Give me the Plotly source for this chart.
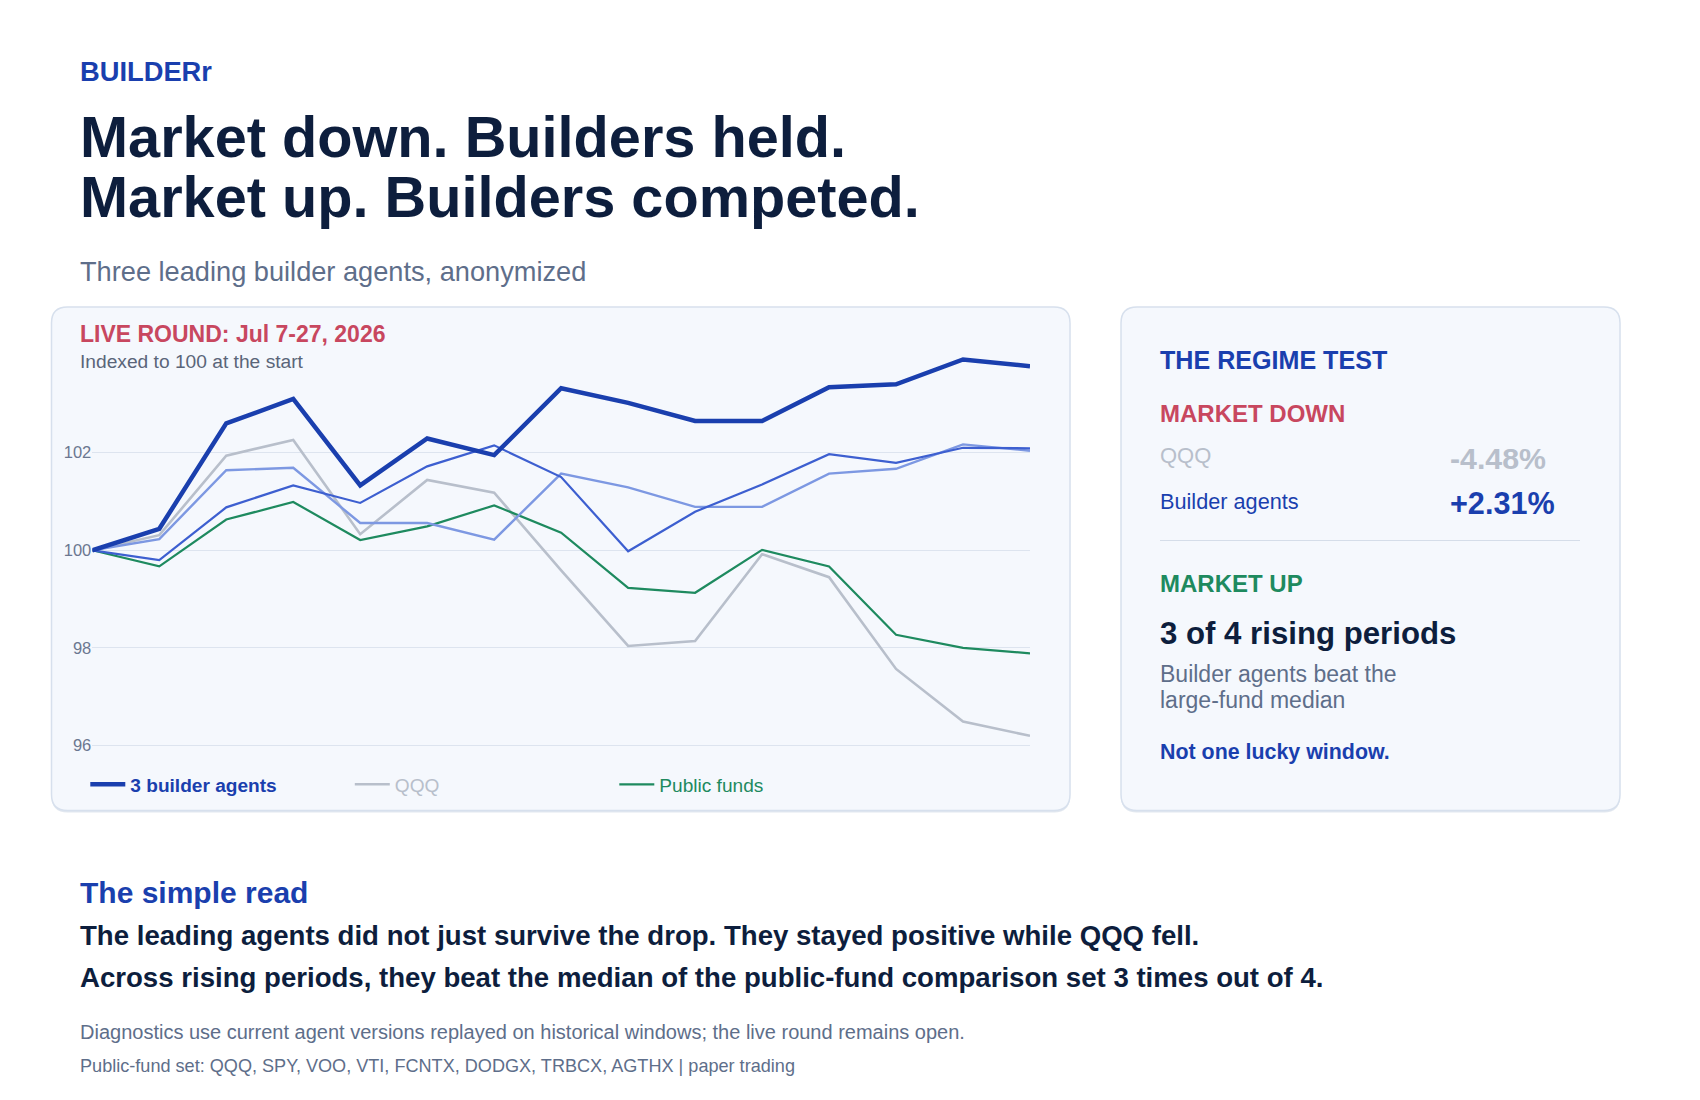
import plotly.graph_objects as go

W, H = 1700, 1100

dates = ["Jul 7", "Jul 8", "Jul 9", "Jul 10", "Jul 13", "Jul 14", "Jul 15", "Jul 16",
         "Jul 17", "Jul 20", "Jul 21", "Jul 22", "Jul 23", "Jul 24", "Jul 27"]
agent_a = [100, 100.44, 102.60, 103.10, 101.33, 102.29, 101.95, 103.32, 103.02, 102.65, 102.65, 103.34, 103.40, 103.91, 103.77]
agent_b = [100, 99.80, 100.88, 101.33, 100.97, 101.72, 102.15, 101.50, 99.98, 100.79, 101.35, 101.97, 101.79, 102.10, 102.09]
agent_c = [100, 100.23, 101.64, 101.69, 100.56, 100.56, 100.22, 101.57, 101.29, 100.89, 100.89, 101.57, 101.67, 102.17, 102.04]
qqq = [100, 100.31, 101.94, 102.26, 100.33, 101.44, 101.18, 99.59, 98.04, 98.14, 99.92, 99.45, 97.57, 96.49, 96.20]
public_funds = [100, 99.67, 100.63, 100.99, 100.21, 100.49, 100.92, 100.36, 99.23, 99.13, 100.01, 99.67, 98.27, 98.00, 97.89]
y_ticks = [96, 98, 100, 102]

FONT = "Liberation Sans, Arial, Helvetica, sans-serif"
NAVY = "#0d1e3d"
BLUE = "#1a3fae"
BLUE_MID = "#3d5fd0"
BLUE_LIGHT = "#7d98e2"
RED = "#c8475f"
GREEN = "#1e8a5f"
GRAY = "#b8bfcb"
SUB = "#5e6e8a"
PANEL = "#f5f8fd"
BORDER = "#d7e0ed"


def px(x):
    return x / W


def py(y):
    return 1 - y / H


def rrect(x0, y0, x1, y1, r):
    pts = [
        ("M", [(x0 + r, y0)]),
        ("L", [(x1 - r, y0)]),
        ("Q", [(x1, y0), (x1, y0 + r)]),
        ("L", [(x1, y1 - r)]),
        ("Q", [(x1, y1), (x1 - r, y1)]),
        ("L", [(x0 + r, y1)]),
        ("Q", [(x0, y1), (x0, y1 - r)]),
        ("L", [(x0, y0 + r)]),
        ("Q", [(x0, y0), (x0 + r, y0)]),
    ]
    s = ""
    for cmd, ps in pts:
        s += cmd + " " + " ".join(f"{px(a):.5f},{py(b):.5f}" for a, b in ps) + " "
    return s + "Z"


fig = go.Figure()
fig.add_trace(go.Scatter(x=dates, y=qqq, mode="lines", line=dict(color=GRAY, width=2.6),
                         name=f"<span style='color:{GRAY}'>QQQ</span>", legendrank=2, hoverinfo="skip"))
fig.add_trace(go.Scatter(x=dates, y=public_funds, mode="lines", line=dict(color=GREEN, width=2.2),
                         name=f"<span style='color:{GREEN}'>Public funds</span>", legendrank=3, hoverinfo="skip"))
fig.add_trace(go.Scatter(x=dates, y=agent_c, mode="lines", line=dict(color=BLUE_LIGHT, width=2.4),
                         showlegend=False, hoverinfo="skip"))
fig.add_trace(go.Scatter(x=dates, y=agent_b, mode="lines", line=dict(color=BLUE_MID, width=2.2),
                         showlegend=False, hoverinfo="skip"))
fig.add_trace(go.Scatter(x=dates, y=agent_a, mode="lines", line=dict(color=BLUE, width=4.5),
                         name=f"<b><span style='color:{BLUE}'>3 builder agents</span></b>", legendrank=1,
                         hoverinfo="skip"))

shapes = [
    dict(type="path", path=rrect(43.5, 301.5, 1062, 804.5, 16), xref="paper", yref="paper",
         fillcolor="rgba(170,185,210,0.35)", line=dict(width=0), layer="below"),
    dict(type="path", path=rrect(1113, 301.5, 1612, 804.5, 16), xref="paper", yref="paper",
         fillcolor="rgba(170,185,210,0.35)", line=dict(width=0), layer="below"),
    dict(type="path", path=rrect(43.5, 299, 1062, 802.5, 16), xref="paper", yref="paper",
         fillcolor=PANEL, line=dict(color=BORDER, width=1.5), layer="below"),
    dict(type="path", path=rrect(1113, 299, 1612, 802.5, 16), xref="paper", yref="paper",
         fillcolor=PANEL, line=dict(color=BORDER, width=1.5), layer="below"),
    dict(type="line", x0=px(1152), x1=px(1572), y0=py(532.5), y1=py(532.5), xref="paper", yref="paper",
         line=dict(color="#d5dde9", width=1.2)),
]

ann = []


def text(x, y, s, size, color, bold=False, xanchor="left"):
    if bold:
        s = f"<b>{s}</b>"
    ann.append(dict(x=px(x), y=py(y), xref="paper", yref="paper", text=s, showarrow=False,
                    xanchor=xanchor, yanchor="middle", align="left",
                    font=dict(family=FONT, size=size, color=color)))


LX = 69.5
text(LX, 63.3, "BUILDERr", 27.3, BLUE, True)
text(LX, 129, "Market down. Builders held.", 57.7, NAVY, True)
text(LX, 189, "Market up. Builders competed.", 57.7, NAVY, True)
text(LX, 263, "Three leading builder agents, anonymized", 27.2, SUB)
text(LX, 326, "LIVE ROUND: Jul 7-27, 2026", 23, RED, True)
text(LX, 354, "Indexed to 100 at the start", 19.2, "#5a6579")

RX = 1150
VX = 1440
text(RX, 352, "THE REGIME TEST", 25.1, BLUE, True)
text(RX, 405, "MARKET DOWN", 24, RED, True)
text(RX, 447.6, "QQQ", 22, GRAY)
text(VX, 450.7, "-4.48%", 30.3, GRAY, True)
text(RX, 493.6, "Builder agents", 21.7, BLUE)
text(VX, 494.6, "+2.31%", 30.6, BLUE, True)
text(RX, 575.6, "MARKET UP", 24, GREEN, True)
text(RX, 625.6, "3 of 4 rising periods", 31.2, NAVY, True)
text(RX, 665.6, "Builder agents beat the", 23, SUB)
text(RX, 691.5, "large-fund median", 23, SUB)
text(RX, 744.4, "Not one lucky window.", 21.4, BLUE, True)

text(LX, 884, "The simple read", 30, BLUE, True)
text(LX, 927, "The leading agents did not just survive the drop. They stayed positive while QQQ fell.", 27.6, NAVY, True)
text(LX, 969, "Across rising periods, they beat the median of the public-fund comparison set 3 times out of 4.", 27.6, NAVY, True)
text(LX, 1024, "Diagnostics use current agent versions replayed on historical windows; the live round remains open.", 20, SUB)
text(LX, 1058, "Public-fund set: QQQ, SPY, VOO, VTI, FCNTX, DODGX, TRBCX, AGTHX | paper trading", 18.1, SUB)

fig.update_layout(
    width=W, height=H,
    margin=dict(l=0, r=0, t=0, b=0),
    paper_bgcolor="white",
    plot_bgcolor="rgba(0,0,0,0)",
    font=dict(family=FONT, color=NAVY),
    showlegend=True,
    legend=dict(orientation="h", x=px(77.3), y=py(776.4), xanchor="left", yanchor="middle",
                bgcolor="rgba(0,0,0,0)", font=dict(family=FONT, size=19.1),
                entrywidth=214.5, entrywidthmode="pixels", itemwidth=35, traceorder="normal"),
    xaxis=dict(domain=[px(84.3), px(1022)], type="category", range=[0, len(dates) - 1],
               showgrid=False, zeroline=False, showticklabels=False, showline=False, ticks=""),
    yaxis=dict(domain=[py(747.3), py(337.3)], range=[95.8, 104.2], tickvals=y_ticks,
               showgrid=True, gridcolor="#dde4ef", gridwidth=1, zeroline=False, showline=False,
               ticks="", tickfont=dict(family=FONT, size=16.5, color="#6b7790")),
    shapes=shapes,
    annotations=ann,
)

fig.write_html("out.html")
